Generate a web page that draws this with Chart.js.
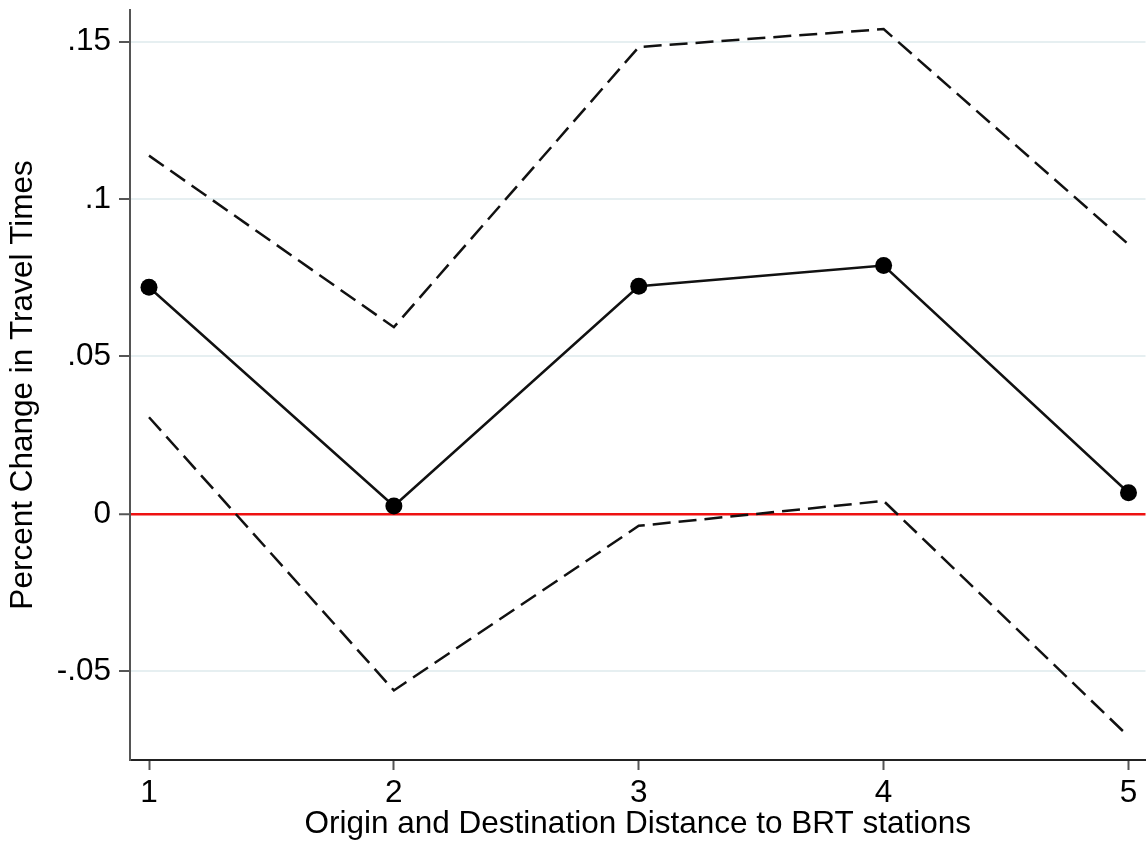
<!DOCTYPE html>
<html>
<head>
<meta charset="utf-8">
<script src="https://cdn.jsdelivr.net/npm/chart.js@4.4.0/dist/chart.umd.min.js"></script>
<style>
html,body{margin:0;padding:0;background:#fff;overflow:hidden;}
#wrap{width:1146px;height:847px;position:relative;overflow:hidden;}
#c{position:absolute;left:0;top:-17px;}
</style>
</head>
<body>
<div id="wrap"><canvas id="c" width="1154" height="864"></canvas></div>
<script>
const categories = [1, 2, 3, 4, 5];
const estimate = [0.0720, 0.0025, 0.0723, 0.0789, 0.0067];
const upperCI = [0.1138, 0.0593, 0.1483, 0.1540, 0.0856];
const lowerCI = [0.0307, -0.0561, -0.0038, 0.0041, -0.0707];
const yTickValues = [-0.05, 0, 0.05, 0.1, 0.15];
const yTickLabels = ['-.05', '0', '.05', '.1', '.15'];
const xTitle = 'Origin and Destination Distance to BRT stations';
const yTitle = 'Percent Change in Travel Times';

const toXY = arr => categories.map((c, i) => ({x: c, y: arr[i]}));
const FONT = 'Liberation Sans, Arial, Helvetica, sans-serif';
const FS = 31.5;

new Chart(document.getElementById('c'), {
  type: 'line',
  data: {
    datasets: [
      {data: toXY(upperCI), borderColor: '#111', borderWidth: 2.5, borderDash: [18, 8], pointRadius: 0, fill: false, tension: 0},
      {data: toXY(lowerCI), borderColor: '#111', borderWidth: 2.5, borderDash: [18, 8], pointRadius: 0, fill: false, tension: 0},
      {data: toXY(estimate), borderColor: '#111', borderWidth: 2.5, pointRadius: 8.5, pointBackgroundColor: '#000', pointBorderColor: '#000', pointBorderWidth: 0, fill: false, tension: 0}
    ]
  },
  options: {
    responsive: false,
    animation: false,
    layout: {padding: 0},
    plugins: {legend: {display: false}, tooltip: {enabled: false}},
    scales: {
      x: {
        type: 'linear',
        min: 0.9224,
        max: 5.0694,
        afterBuildTicks: s => { s.ticks = categories.map(v => ({value: v})); },
        afterFit: s => { s.height = 87; },
        ticks: {color: '#000', font: {family: FONT, size: FS}, padding: 4, maxRotation: 0, callback: v => String(v)},
        grid: {drawOnChartArea: false, drawTicks: true, tickLength: 10, tickColor: '#555', tickWidth: 2},
        border: {display: true, color: '#222', width: 2},
        title: {display: true, text: xTitle, color: '#000', font: {family: FONT, size: FS, lineHeight: 1.2}, padding: {top: 0, bottom: 4}}
      },
      y: {
        type: 'linear',
        min: -0.0782,
        max: 0.1601,
        afterBuildTicks: s => { s.ticks = yTickValues.map(v => ({value: v})); },
        afterFit: s => { s.width = 130; },
        ticks: {color: '#000', font: {family: FONT, size: FS}, padding: 8,
          callback: (v) => { const i = yTickValues.findIndex(t => Math.abs(t - v) < 1e-9); return i >= 0 ? yTickLabels[i] : ''; }},
        grid: {
          drawOnChartArea: true, drawTicks: true, tickLength: 11,
          color: ctx => (ctx.tick && Math.abs(ctx.tick.value) < 1e-9) ? '#ee1111' : '#e6eff1',
          lineWidth: ctx => (ctx.tick && Math.abs(ctx.tick.value) < 1e-9) ? 2.5 : 2,
          tickColor: '#555', tickWidth: 2
        },
        border: {display: true, color: '#555', width: 2},
        title: {display: true, text: yTitle, color: '#000', font: {family: FONT, size: FS, lineHeight: 1.2}, padding: {top: 4, bottom: 0}}
      }
    }
  }
});
</script>
</body>
</html>
